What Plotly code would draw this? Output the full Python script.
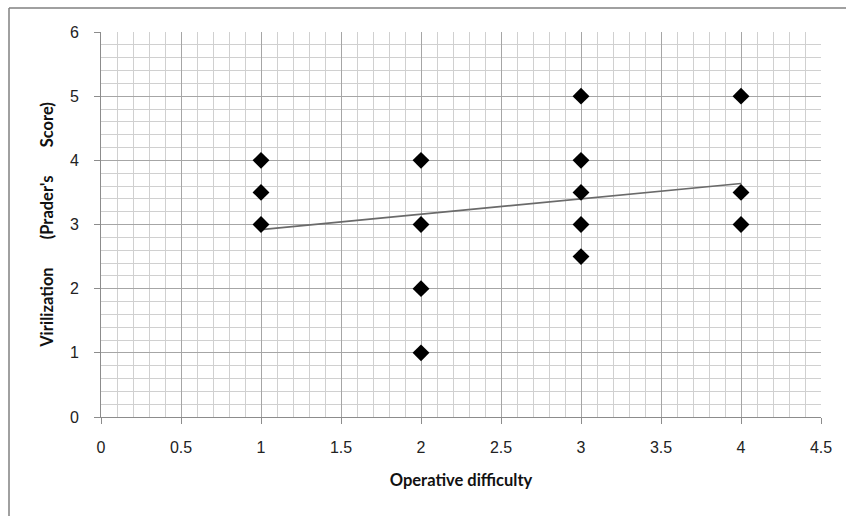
import plotly.graph_objects as go

difficulty = [1, 1, 1, 2, 2, 2, 2, 3, 3, 3, 3, 3, 4, 4, 4]
prader_score = [3, 3.5, 4, 1, 2, 3, 4, 2.5, 3, 3.5, 4, 5, 3, 3.5, 5]
trend_x = [1, 4]
trend_y = [2.92, 3.64]

x_ticks = [0, 0.5, 1, 1.5, 2, 2.5, 3, 3.5, 4, 4.5]
x_tick_labels = ["0", "0.5", "1", "1.5", "2", "2.5", "3", "3.5", "4", "4.5"]
y_ticks = [0, 1, 2, 3, 4, 5, 6]

W, H = 846, 516
L, R, T, B = 101, 25, 32, 99

fig = go.Figure()
fig.add_trace(go.Scatter(x=trend_x, y=trend_y, mode="lines",
                         line=dict(color="#6a6a6a", width=1.6), showlegend=False))
fig.add_trace(go.Scatter(x=difficulty, y=prader_score, mode="markers",
                         marker=dict(symbol="diamond", size=13, color="black"),
                         showlegend=False))

tickfont = dict(family="Liberation Sans, Arial, sans-serif", size=16, color="#222")
titlefont = dict(family="Lato, sans-serif", size=16.5, color="#111", weight="bold")
gap = "\u00a0" * 7

fig.update_xaxes(range=[0, 4.5], tickvals=x_ticks, ticktext=x_tick_labels,
                 showgrid=True, gridcolor="#a6a6a6", gridwidth=1,
                 minor=dict(dtick=0.1, showgrid=True, gridcolor="#d0d0d0", gridwidth=1),
                 showline=True, linecolor="#8c8c8c", linewidth=1, mirror=False,
                 ticks="outside", ticklen=6, tickcolor="#8c8c8c", ticklabelstandoff=10,
                 tickfont=tickfont, zeroline=False,
                 title=dict(text="Operative difficulty", font=titlefont, standoff=19))
fig.update_yaxes(range=[0, 6], tickvals=y_ticks,
                 showgrid=True, gridcolor="#a6a6a6", gridwidth=1,
                 minor=dict(dtick=0.2, showgrid=True, gridcolor="#d0d0d0", gridwidth=1),
                 showline=True, linecolor="#8c8c8c", linewidth=1,
                 ticks="outside", ticklen=6, tickcolor="#8c8c8c", ticklabelstandoff=12,
                 tickfont=tickfont, zeroline=False,
                 title=dict(text="Virilization" + gap + "(Prader's" + gap + "Score)",
                            font=titlefont, standoff=12))

pw, ph = W - L - R, H - T - B
fx0 = (9 - L) / pw
fy_top = (H - B - 8) / ph
fig.add_shape(type="line", xref="paper", yref="paper", x0=fx0, x1=fx0, y0=fy_top, y1=-0.5,
              line=dict(color="#808080", width=1.5))
fig.add_shape(type="line", xref="paper", yref="paper", x0=fx0, x1=1.2, y0=fy_top, y1=fy_top,
              line=dict(color="#808080", width=1.5))

fig.update_layout(width=W, height=H, margin=dict(l=L, r=R, t=T, b=B, autoexpand=False),
                  paper_bgcolor="white", plot_bgcolor="white")

fig.write_html("out.html", config={"displayModeBar": False},
               post_script="document.body.style.margin='0px';document.body.style.overflow='hidden';")
